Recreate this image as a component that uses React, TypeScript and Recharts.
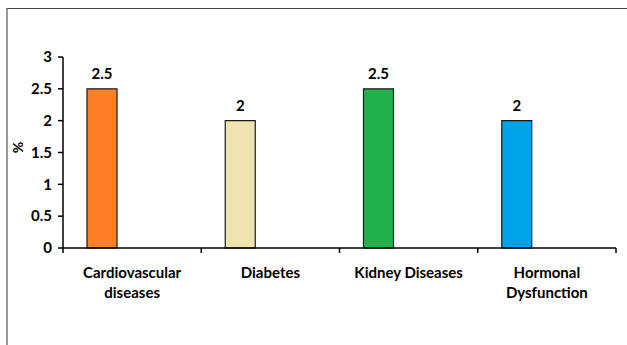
import { Bar, BarChart, Cell, LabelList, Text, XAxis, YAxis } from "recharts";

const categories = ["Cardiovascular diseases", "Diabetes", "Kidney Diseases", "Hormonal Dysfunction"];
const values = [2.5, 2, 2.5, 2];
const barColors = ["#FF7F27", "#EFE4B0", "#22B14C", "#00A2E8"];
const yTicks = [0, 0.5, 1, 1.5, 2, 2.5, 3];

const data = categories.map((name, i) => ({ name, value: values[i] }));

const FONT = "Lato, 'Open Sans', sans-serif";

// category label, wrapped like the Excel original, plus tick marks on the
// category boundaries (Excel puts them between categories, not under them)
const CategoryTick = (props: {
  x?: number;
  y?: number;
  index?: number;
  visibleTicksCount?: number;
  payload?: { value: string; offset?: number };
}) => {
  const { x = 0, y = 0, payload, index = 0, visibleTicksCount = 0 } = props;
  if (!payload) return null;
  const half = payload.offset ?? 0;
  const isLast = index === visibleTicksCount - 1;
  return (
    <g>
      <line x1={x - half} x2={x - half} y1={y} y2={y + 5} stroke="#000" strokeWidth={1.5} />
      {isLast && <line x1={x + half} x2={x + half} y1={y} y2={y + 5} stroke="#000" strokeWidth={1.5} />}
      <Text
        x={x}
        y={y + 19}
        width={130}
        textAnchor="middle"
        verticalAnchor="start"
        lineHeight={20}
        style={{ fontFamily: FONT, fontWeight: 700, fontSize: 15, fill: "#000" }}
      >
        {payload.value}
      </Text>
    </g>
  );
};

const YLabel = (props: { viewBox?: { x: number; y: number; width: number; height: number } }) => {
  const vb = props.viewBox;
  if (!vb) return null;
  const cx = vb.x + 17;
  const cy = vb.y + vb.height / 2 - 5;
  return (
    <text
      x={cx}
      y={cy}
      transform={`rotate(-90 ${cx} ${cy})`}
      textAnchor="middle"
      dominantBaseline="central"
      style={{ fontFamily: FONT, fontWeight: 700, fontSize: 14, fill: "#000" }}
    >
      %
    </text>
  );
};

export default function App() {
  return (
    <div style={{ position: "relative", width: 627, height: 345, overflow: "hidden", background: "#fff" }}>
      <style>{"body{margin:0}"}</style>
      <div
        style={{
          position: "absolute",
          left: 6,
          top: 8,
          width: 700,
          height: 400,
          borderTop: "1px solid #444",
          borderLeft: "2px solid #999",
        }}
      />
      <div style={{ position: "absolute", left: 0, top: 0 }}>
        <BarChart
          width={627}
          height={345}
          data={data}
          margin={{ top: 57, right: 11, bottom: 31, left: 0 }}
          barCategoryGap={24}
          barGap={0}
        >
          <XAxis
            dataKey="name"
            height={66}
            axisLine={{ stroke: "#000", strokeWidth: 1.5 }}
            tickLine={false}
            tickSize={0}
            tickMargin={0}
            interval={0}
            tick={<CategoryTick />}
          />
          <YAxis
            domain={[0, 3]}
            ticks={yTicks}
            width={63}
            tickSize={5}
            tickMargin={6}
            axisLine={{ stroke: "#000", strokeWidth: 1.5 }}
            tickLine={{ stroke: "#000", strokeWidth: 1.5 }}
            tick={{ fill: "#000", fontSize: 15, fontWeight: 700, fontFamily: FONT }}
            label={<YLabel />}
          />
          <Bar dataKey="value" stroke="#1a1a1a" strokeWidth={1.2} isAnimationActive={false}>
            {data.map((_, i) => (
              <Cell key={i} fill={barColors[i]} />
            ))}
            <LabelList
              dataKey="value"
              position="top"
              offset={10}
              style={{ fill: "#000", fontSize: 15, fontWeight: 700, fontFamily: FONT }}
            />
          </Bar>
          <Bar dataKey="empty2" isAnimationActive={false} />
          <Bar dataKey="empty3" isAnimationActive={false} />
        </BarChart>
      </div>
    </div>
  );
}
